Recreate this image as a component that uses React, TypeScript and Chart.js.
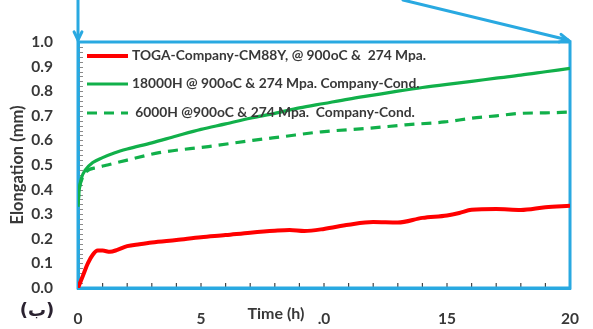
import React, { useEffect, useRef } from "react";
import { Chart, registerables } from "chart.js";

Chart.register(...registerables);

// ---- data ----
const timeRed = [0, 0.2, 0.4, 0.6, 0.8, 1.0, 1.3, 1.6, 2, 2.5, 3, 4, 5, 6, 7, 8, 8.6, 9.2, 10, 11, 12, 13, 14, 15, 15.5, 16, 17, 18, 19, 20];
const elongRed = [0, 0.05, 0.1, 0.135, 0.152, 0.152, 0.147, 0.155, 0.17, 0.178, 0.185, 0.195, 0.206, 0.215, 0.225, 0.233, 0.236, 0.232, 0.24, 0.257, 0.268, 0.266, 0.285, 0.295, 0.305, 0.318, 0.321, 0.317, 0.328, 0.334];

const time18000 = [0, 0.05, 0.15, 0.3, 0.6, 1, 1.5, 2, 3, 4, 5, 6, 7, 8, 9, 10, 11, 12, 13, 14, 15, 16, 17, 18, 19, 20];
const elong18000 = [0.33, 0.4, 0.45, 0.48, 0.51, 0.53, 0.55, 0.565, 0.59, 0.618, 0.645, 0.667, 0.69, 0.71, 0.732, 0.75, 0.768, 0.784, 0.8, 0.815, 0.828, 0.84, 0.853, 0.865, 0.879, 0.893];

const time6000 = [0, 0.05, 0.15, 0.3, 0.8, 1.2, 2, 3.3, 5.3, 7.1, 8.3, 9.9, 11.9, 13.3, 14.9, 16, 17, 18, 19, 20];
const elong6000 = [0.34, 0.4, 0.44, 0.47, 0.49, 0.5, 0.52, 0.55, 0.575, 0.6, 0.615, 0.635, 0.65, 0.663, 0.675, 0.69, 0.7, 0.71, 0.712, 0.715];

const seriesLabels = [
  "TOGA-Company-CM88Y, @ 900oC &  274 Mpa.",
  "18000H @ 900oC & 274 Mpa. Company-Cond.",
  " 6000H @900oC & 274 Mpa.  Company-Cond.",
];

const xTickLabels = ["0", "5", ".0", "15", "20"];
const xTitle = "Time (h)";
const yTitle = "Elongation (mm)";
const cornerLabel = "(ب)";

const BLUE = "#29a9e1";
const TEXT = "#383838";
const RED = "#ff0000";
const GREEN = "#11b04a";

const toPts = (xs: number[], ys: number[]) => xs.map((x, i) => ({ x, y: ys[i] }));

const decorPlugin = {
  id: "decor",
  beforeDatasetsDraw(chart: any) {
    const { ctx, chartArea: a, scales } = chart;
    const xs = scales.x, ys = scales.y;
    ctx.save();
    ctx.strokeStyle = "#8a8a8a";
    ctx.lineWidth = 1;
    for (let i = 0; i <= 50; i++) {
      const py = Math.round(ys.getPixelForValue(i * 0.02)) + 0.5;
      ctx.beginPath();
      ctx.moveTo(a.left + 1, py);
      ctx.lineTo(a.left + 5, py);
      ctx.stroke();
    }
    ctx.strokeStyle = "#444";
    ctx.lineWidth = 1.2;
    for (let i = 1; i < 20; i++) {
      const px = xs.getPixelForValue(i);
      ctx.beginPath();
      ctx.moveTo(px, a.bottom - 1);
      ctx.lineTo(px, a.bottom - 5);
      ctx.stroke();
    }
    ctx.strokeStyle = BLUE;
    ctx.lineWidth = 3;
    ctx.strokeRect(a.left, a.top, a.right - a.left, a.bottom - a.top);
    ctx.restore();
  },
  afterDraw(chart: any) {
    const { ctx, chartArea: a, data } = chart;
    ctx.save();
    ctx.strokeStyle = BLUE;
    ctx.lineWidth = 3;
    ctx.lineCap = "round";
    const arrow = (x1: number, y1: number, x2: number, y2: number) => {
      ctx.beginPath();
      ctx.moveTo(x1, y1);
      ctx.lineTo(x2, y2);
      ctx.stroke();
      const ang = Math.atan2(y2 - y1, x2 - x1);
      const L = 9;
      ctx.beginPath();
      ctx.moveTo(x2 - L * Math.cos(ang - 0.45), y2 - L * Math.sin(ang - 0.45));
      ctx.lineTo(x2, y2);
      ctx.lineTo(x2 - L * Math.cos(ang + 0.45), y2 - L * Math.sin(ang + 0.45));
      ctx.stroke();
    };
    arrow(a.left, 0, a.left, a.top - 2);
    arrow(403, 0, a.right - 2, a.top - 2);
    ctx.lineCap = "butt";

    const rows = [a.top + 14, a.top + 42, a.top + 71];
    ctx.font = "bold 13.8px Lato";
    ctx.textBaseline = "middle";
    ctx.textAlign = "left";
    data.datasets.forEach((ds: any, i: number) => {
      const y = rows[i];
      ctx.strokeStyle = ds.borderColor;
      ctx.lineWidth = ds.borderWidth;
      ctx.setLineDash(ds.borderDash || []);
      ctx.beginPath();
      ctx.moveTo(a.left + 9, y);
      ctx.lineTo(a.left + 50, y);
      ctx.stroke();
      ctx.setLineDash([]);
      ctx.fillStyle = TEXT;
      ctx.fillText(ds.label, a.left + 54, y);
    });

    ctx.fillStyle = TEXT;
    ctx.font = "bold 16px Lato";
    ctx.textAlign = "center";
    ctx.fillText(xTitle, 276, 314);
    ctx.save();
    ctx.translate(18, (a.top + a.bottom) / 2);
    ctx.rotate(-Math.PI / 2);
    ctx.font = "bold 16.5px Lato";
    ctx.fillText(yTitle, 0, 0);
    ctx.restore();
    ctx.font = "bold 18px 'DejaVu Sans'";
    ctx.fillStyle = "#2a2230";
    ctx.fillText(cornerLabel, 37, 311);
    ctx.restore();
  },
};

export default function App() {
  const ref = useRef<HTMLCanvasElement>(null);
  useEffect(() => {
    if (!ref.current) return;
    const chart = new Chart(ref.current, {
      type: "line",
      data: {
        datasets: [
          { label: seriesLabels[0], data: toPts(timeRed, elongRed), borderColor: RED, borderWidth: 4, pointRadius: 0, cubicInterpolationMode: "monotone", fill: false },
          { label: seriesLabels[1], data: toPts(time18000, elong18000), borderColor: GREEN, borderWidth: 3.2, pointRadius: 0, cubicInterpolationMode: "monotone", fill: false },
          { label: seriesLabels[2], data: toPts(time6000, elong6000), borderColor: GREEN, borderWidth: 3.2, borderDash: [10, 7], pointRadius: 0, cubicInterpolationMode: "monotone", fill: false },
        ],
      },
      options: {
        responsive: false,
        animation: false,
        layout: { padding: { top: 42, right: 21, left: 0, bottom: 0 } },
        plugins: { legend: { display: false }, tooltip: { enabled: false } },
        scales: {
          x: {
            type: "linear",
            min: 0,
            max: 20,
            afterFit: (s: any) => { s.height = 41; },
            grid: { display: false },
            border: { display: true, color: BLUE, width: 3 },
            ticks: {
              stepSize: 5,
              autoSkip: false,
              maxRotation: 0,
              padding: 14,
              color: TEXT,
              font: { family: "Lato", weight: "bold", size: 15.5 },
              callback: (v: any) => xTickLabels[Math.round(Number(v) / 5)] ?? "",
            },
          },
          y: {
            min: 0,
            max: 1,
            afterFit: (s: any) => { s.width = 78; },
            grid: { display: false },
            border: { display: true, color: BLUE, width: 3 },
            ticks: {
              stepSize: 0.1,
              padding: 17,
              color: TEXT,
              font: { family: "Lato", weight: "bold", size: 15.5 },
              callback: (v: any) => Number(v).toFixed(1),
            },
          },
        },
      } as any,
      plugins: [decorPlugin],
    });
    return () => chart.destroy();
  }, []);
  return (
    <div style={{ position: "absolute", left: 0, top: 0, width: 593, height: 329, background: "#fff" }}>
      <canvas ref={ref} width={593} height={329} style={{ display: "block" }} />
    </div>
  );
}
